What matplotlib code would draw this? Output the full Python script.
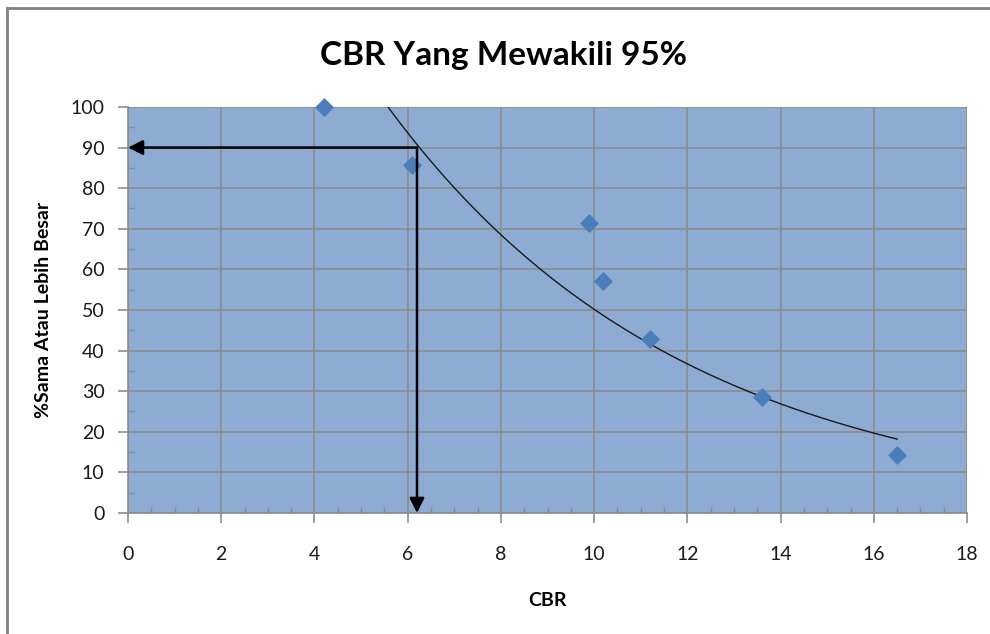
import numpy as np
import matplotlib.pyplot as plt
from matplotlib.lines import Line2D
from matplotlib.ticker import MultipleLocator

# data
cbr = [4.2, 6.1, 9.9, 10.2, 11.2, 13.6, 16.5]
persen = [100, 85.7, 71.4, 57.1, 42.9, 28.6, 14.3]
cbr_95 = 6.2
persen_95 = 90

# exponential trendline (like Excel) fitted on the points
b, ln_a = np.polyfit(cbr, np.log(persen), 1)
xt = np.linspace(min(cbr), max(cbr), 200)
yt = np.exp(ln_a) * np.exp(b * xt)

plt.rcParams['font.family'] = ['Lato', 'DejaVu Sans']

fig = plt.figure(figsize=(9.9, 6.34), dpi=100)
ax = fig.add_axes([0.1293, 0.1909, 0.8475, 0.6404])
ax.set_facecolor('#8eabd3')

ax.plot(xt, yt, color='#1a1a1a', lw=1.0, zorder=3)
ax.scatter(cbr, persen, marker='D', s=75, color='#4a7ebb', zorder=4, clip_on=False)

# arrows reading the 90% value
ax.annotate('', xy=(0, persen_95), xytext=(cbr_95, persen_95),
            arrowprops=dict(arrowstyle='-|>', color='black', lw=1.8,
                            mutation_scale=22, shrinkA=0, shrinkB=0), zorder=5)
ax.annotate('', xy=(cbr_95, 0), xytext=(cbr_95, persen_95),
            arrowprops=dict(arrowstyle='-|>', color='black', lw=1.8,
                            mutation_scale=22, shrinkA=0, shrinkB=0), zorder=5)

ax.set_xlim(0, 18)
ax.set_ylim(0, 100)
ax.xaxis.set_major_locator(MultipleLocator(2))
ax.xaxis.set_minor_locator(MultipleLocator(0.5))
ax.yaxis.set_major_locator(MultipleLocator(10))
ax.yaxis.set_minor_locator(MultipleLocator(5))

ax.grid(True, which='major', color='#8c8c8c', lw=1.2, zorder=1)
ax.set_axisbelow(True)
for side in ['top', 'right']:
    ax.spines[side].set_visible(False)
for side in ['left', 'bottom']:
    ax.spines[side].set_color('#8c8c8c')
    ax.spines[side].set_linewidth(1.2)

ax.tick_params(which='major', direction='out', length=7, width=1.2, color='#8c8c8c',
               labelsize=14, labelcolor='#1a1a1a')
ax.tick_params(axis='x', which='major', pad=17)
ax.tick_params(axis='y', which='major', pad=10)
ax.tick_params(which='minor', direction='in', length=4, width=1, color='#8c8c8c')

ax.set_xlabel('CBR', fontsize=14, fontweight='bold', labelpad=21)
ax.set_ylabel('%Sama Atau Lebih Besar', fontsize=14, fontweight='bold', labelpad=13)

fig.text(0.509, 0.913, 'CBR Yang Mewakili 95%', ha='center', va='center',
         fontsize=24, fontweight='bold')

# chart area border (only top and left visible in the original)
fig.add_artist(Line2D([7 / 990, 7 / 990], [0, 1 - 8 / 634], color='#808080', lw=2))
fig.add_artist(Line2D([7 / 990, 1], [1 - 8 / 634, 1 - 8 / 634], color='#808080', lw=2))

fig.savefig('out.png', dpi=100, facecolor='white')
